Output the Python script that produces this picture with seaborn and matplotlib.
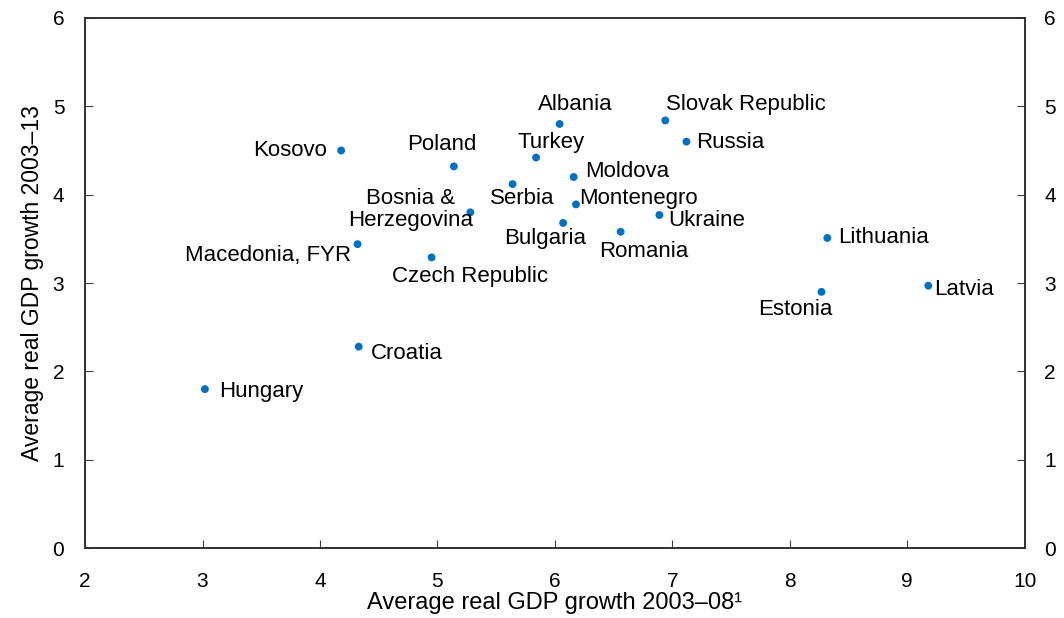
import matplotlib
matplotlib.use('Agg')
import matplotlib.pyplot as plt
import seaborn as sns
import pandas as pd

# Average real GDP growth, percent
countries = ['Hungary', 'Croatia', 'Macedonia, FYR', 'Kosovo', 'Poland',
             'Bosnia &\nHerzegovina', 'Czech Republic', 'Serbia', 'Turkey',
             'Albania', 'Moldova', 'Montenegro', 'Bulgaria', 'Romania',
             'Ukraine', 'Slovak Republic', 'Russia', 'Lithuania', 'Estonia',
             'Latvia']
growth_03_08 = [3.02, 4.33, 4.32, 4.18, 5.14, 5.28, 4.95, 5.64, 5.84, 6.04,
                6.16, 6.18, 6.07, 6.56, 6.89, 6.94, 7.12, 8.32, 8.27, 9.18]
growth_03_13 = [1.80, 2.28, 3.44, 4.50, 4.32, 3.80, 3.29, 4.12, 4.42, 4.80,
                4.20, 3.89, 3.68, 3.58, 3.77, 4.84, 4.60, 3.51, 2.90, 2.97]

df = pd.DataFrame({'country': countries, 'x': growth_03_08, 'y': growth_03_13})

# label placement (offset in pixels, horizontal alignment)
label_pos = {
    'Hungary': (14, -2, 'left'),
    'Croatia': (12, -7, 'left'),
    'Macedonia, FYR': (-6, -11, 'right'),
    'Kosovo': (-14, 0, 'right'),
    'Poland': (-12, 22, 'center'),
    'Bosnia &\nHerzegovina': (-60, 3, 'center'),
    'Czech Republic': (38, -19, 'center'),
    'Serbia': (10, -14, 'center'),
    'Turkey': (15, 15, 'center'),
    'Albania': (16, 19, 'center'),
    'Moldova': (11, 5, 'left'),
    'Montenegro': (3, 6, 'left'),
    'Bulgaria': (-18, -16, 'center'),
    'Romania': (23, -20, 'center'),
    'Ukraine': (9, -6, 'left'),
    'Slovak Republic': (1, 16, 'left'),
    'Russia': (10, -1, 'left'),
    'Lithuania': (11, 0, 'left'),
    'Estonia': (-26, -18, 'center'),
    'Latvia': (6, -4, 'left'),
}

sns.set_style('ticks')
plt.rcParams['font.family'] = ['Liberation Sans', 'DejaVu Sans']
plt.rcParams['text.color'] = 'black'

fig, ax = plt.subplots(figsize=(10.64, 6.18), dpi=100)
fig.subplots_adjust(left=0.08, right=0.963, top=0.971, bottom=0.113)

sns.scatterplot(data=df, x='x', y='y', ax=ax, color='#0070C0', s=32,
                edgecolor='none', zorder=3)

for c, xv, yv in zip(countries, growth_03_08, growth_03_13):
    dx, dy, ha = label_pos[c]
    ax.annotate(c, (xv, yv), xytext=(dx, dy), textcoords='offset pixels',
                ha=ha, va='center', fontsize=16, color='black',
                multialignment='center', linespacing=1.05)

ax.set_xlim(2, 10)
ax.set_ylim(0, 6)
ax.set_xticks(range(2, 11))
ax.set_yticks(range(0, 7))
ax.tick_params(direction='in', length=6, labelsize=15, labelcolor='black',
               color='#404040')
ax.tick_params(axis='y', pad=15)
ax.tick_params(axis='x', pad=17)
ax.set_xlabel('Average real GDP growth 2003–08¹', fontsize=17,
              color='black', labelpad=1)
ax.set_ylabel('Average real GDP growth 2003–13', fontsize=16.5,
              color='black', labelpad=6)

ax2 = ax.twinx()
ax2.set_ylim(0, 6)
ax2.set_yticks(range(0, 7))
ax2.tick_params(direction='in', length=6, labelsize=15, labelcolor='black',
                color='#404040', pad=14)

for a in (ax, ax2):
    for sp in a.spines.values():
        sp.set_visible(True)
        sp.set_color('#303030')
        sp.set_linewidth(1.2)

fig.savefig('out.png', dpi=100)
